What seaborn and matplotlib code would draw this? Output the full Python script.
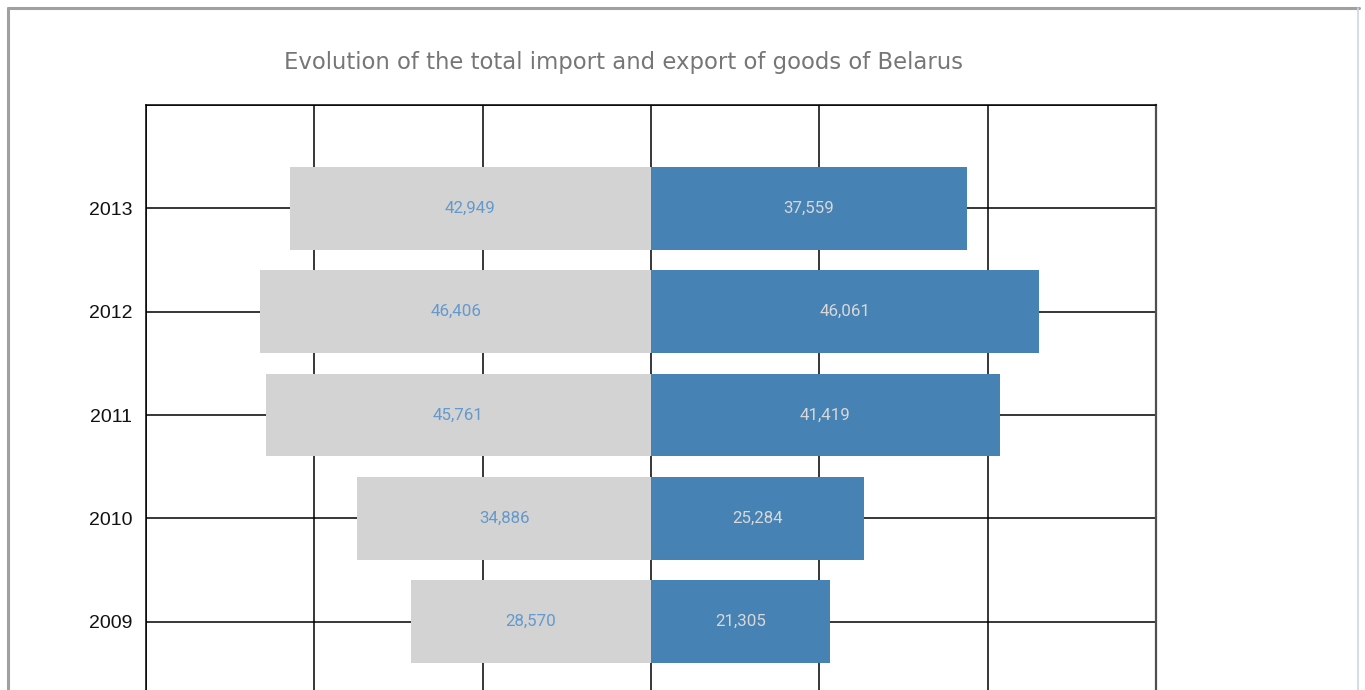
import pandas as pd
import matplotlib.pyplot as plt
import seaborn as sns
from matplotlib.lines import Line2D

years = ["2013", "2012", "2011", "2010", "2009"]
imports = [42949, 46406, 45761, 34886, 28570]
exports = [37559, 46061, 41419, 25284, 21305]

df = pd.DataFrame({"Year": years, "Import": imports, "Export": exports})
df["ImportNeg"] = -df["Import"]

sns.set_style("white")
plt.rcParams["font.family"] = ["DejaVu Sans"]

fig = plt.figure(figsize=(13.65, 6.9), dpi=100)
ax = fig.add_axes([146 / 1365, -35 / 690, 1010 / 1365, 620 / 690])

sns.barplot(x="ImportNeg", y="Year", data=df, order=years, color="#d3d3d3",
            width=0.8, saturation=1, linewidth=0, ax=ax, orient="h")
sns.barplot(x="Export", y="Year", data=df, order=years, color="#4682b4",
            width=0.8, saturation=1, linewidth=0, ax=ax, orient="h")

ax.bar_label(ax.containers[0], labels=[f"{v:,}" for v in imports], label_type="center",
             color="#6399cc", fontsize=12.2, family="Roboto")
ax.bar_label(ax.containers[1], labels=[f"{v:,}" for v in exports], label_type="center",
             color="#d8d8d8", fontsize=12.2, family="Roboto")

ax.set_xlim(-60000, 60000)
ax.set_ylim(5, -1)
ax.set_xticks(range(-60000, 60001, 20000))
ax.set_yticks([-1, 0, 1, 2, 3, 4])
ax.set_yticklabels([""] + years)
ax.set_axisbelow(True)
ax.grid(True, color="black", linewidth=1.1)
ax.tick_params(axis="x", length=0, labelbottom=False)
ax.tick_params(axis="y", length=9, width=1.1, color="black", labelsize=14,
               labelcolor="#111111", pad=1)
for lab in ax.get_yticklabels():
    lab.set_family("Liberation Sans")
ax.set_xlabel("")
ax.set_ylabel("")
for side in ["left", "top", "bottom"]:
    ax.spines[side].set_color("black")
    ax.spines[side].set_linewidth(1.1)
ax.spines["right"].set_color("#505050")
ax.spines["right"].set_linewidth(1.6)

fig.text(624 / 1365, 1 - 63 / 690, "Evolution of the total import and export of goods of Belarus",
         ha="center", va="center", fontsize=16.4, color="#767676")

# window frame
fig.add_artist(Line2D([8 / 1365, 8 / 1365], [0, 1 - 8 / 690], transform=fig.transFigure,
                      color="#a0a0a0", linewidth=2.2))
fig.add_artist(Line2D([8 / 1365, 1359 / 1365], [1 - 8 / 690, 1 - 8 / 690], transform=fig.transFigure,
                      color="#a0a0a0", linewidth=2.2))
fig.add_artist(Line2D([1358 / 1365, 1358 / 1365], [0, 1 - 8 / 690], transform=fig.transFigure,
                      color="#ccd8e4", linewidth=1.2))

fig.savefig("out.png", dpi=100)
